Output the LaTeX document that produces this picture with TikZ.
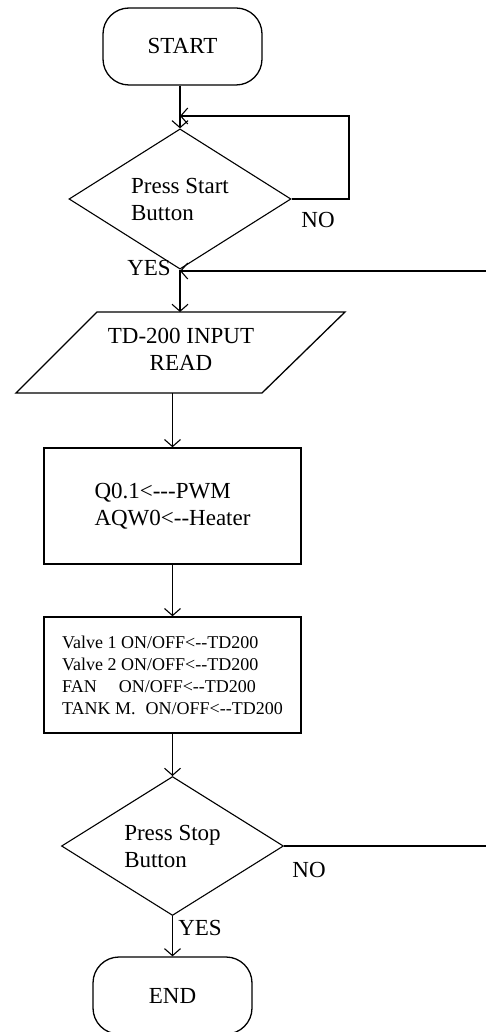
\documentclass[tikz,border=0pt]{standalone}
\usepackage{fontspec}
\setmainfont{Liberation Serif}[Ligatures=TeXOff]
\usetikzlibrary{shapes.geometric,arrows.meta}
\begin{document}
\begin{tikzpicture}[x=1pt,y=-1pt,
  every node/.style={font=\fontsize{23}{27}\selectfont},
  line/.style={line width=1.3pt, draw=black},
  arr/.style={line, -{Straight Barb[length=7pt,width=16pt,line width=1.1pt]}},
  term/.style={draw, line width=1.3pt, rectangle, rounded corners=26pt, minimum width=159pt, minimum height=77pt, inner sep=0pt},
  dec/.style={draw, line width=1.1pt, diamond, minimum width=222pt, minimum height=117pt, inner sep=0pt, align=left},
  proc/.style={draw, line width=1.5pt, rectangle, minimum width=257pt, minimum height=116pt, inner sep=0pt, align=left},
  lbl/.style={inner sep=0pt}
]
\useasboundingbox (0,0) rectangle (486,1032);
\clip (0,0) rectangle (486,1032);

\node[term] (start) at (182.5,46.5) {START};
\node[dec] (d1) at (180,199) {Press Start\\Button};
\coordinate (j1) at (180,116);
\coordinate (loopR) at (349,116);
\draw[arr] (start.south -| d1.north) -- (d1.north);
\draw[arr] (d1.east) -| (loopR) -- (j1);
\node[lbl] (no1) at (318,220) {NO};
\node[lbl] (yes1) at (149,268) {YES};
\coordinate (j2) at (180,271);

\draw[line] (97,312) -- (345,312) -- (262,393) -- (16,393) -- cycle;
\node[lbl, align=center] (read) at (181,349) {TD-200 INPUT\\READ};
\coordinate (readtop) at (180,312);
\coordinate (readbot) at (172.5,393);
\draw[arr] (d1.south) -- (readtop);

\node[proc] (p1) at (172.5,506) {Q0.1<---PWM\\AQW0<--Heater};
\draw[arr] (readbot) -- (p1.north);

\node[proc, font=\fontsize{18}{22}\selectfont] (p2) at (172.5,675)
  {Valve 1 ON/OFF<--TD200\\Valve 2 ON/OFF<--TD200\\FAN\hspace{22pt}ON/OFF<--TD200\\TANK M.\hspace{10pt}ON/OFF<--TD200};
\draw[arr] (p1) -- (p2);

\node[dec] (d2) at (172.5,846) {Press Stop\\Button};
\draw[arr] (p2) -- (d2);
\coordinate (rt) at (492,846);
\coordinate (rt2) at (492,271);
\draw[arr] (d2.east) -- (rt) -- (rt2) -- (j2);
\node[lbl] (no2) at (309,870) {NO};

\node[term] (end) at (172.5,995.5) {END};
\draw[arr] (d2) -- (end);
\node[lbl] (yes2) at (200,928) {YES};
\end{tikzpicture}
\end{document}
